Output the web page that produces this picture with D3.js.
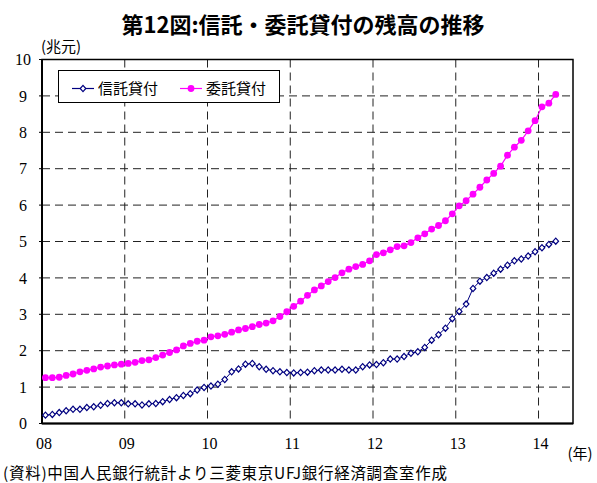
<!DOCTYPE html>
<html>
<head>
<meta charset="utf-8">
<script src="https://cdn.jsdelivr.net/npm/d3@7"></script>
<style>
  html, body { margin: 0; padding: 0; background: #fff; }
  svg { display: block; }
</style>
</head>
<body>
<svg id="chart" width="597" height="483"></svg>
<script>
// Monthly categories on the horizontal axis: Jan 2008 through May 2014
const months = d3.timeMonth.range(new Date(2008, 0, 1), new Date(2014, 5, 1));

// Year tick labels (placed at January of each year)
const yearLabels = ["08", "09", "10", "11", "12", "13", "14"];
const yearStarts = [2008, 2009, 2010, 2011, 2012, 2013, 2014];

// Value axis ticks (兆元)
const yTicks = [0, 1, 2, 3, 4, 5, 6, 7, 8, 9, 10];

// 信託貸付 outstanding balance, monthly from Jan 2008
const trustLoans = [
  0.23, 0.25, 0.30, 0.35, 0.39, 0.39, 0.44, 0.46, 0.50, 0.55, 0.57, 0.57,
  0.54, 0.54, 0.51, 0.54, 0.55, 0.60, 0.66, 0.71, 0.77, 0.82, 0.92, 0.99,
  1.03, 1.08, 1.21, 1.42, 1.50, 1.63, 1.65, 1.56, 1.49, 1.45, 1.42, 1.40,
  1.39, 1.40, 1.41, 1.45, 1.47, 1.47, 1.47, 1.49, 1.47, 1.47, 1.56, 1.61,
  1.62, 1.67, 1.77, 1.77, 1.84, 1.93, 1.97, 2.09, 2.29, 2.44, 2.62, 2.88,
  3.08, 3.28, 3.71, 3.91, 4.01, 4.13, 4.24, 4.35, 4.47, 4.52, 4.60, 4.72,
  4.83, 4.92, 5.01
];

// 委託貸付 outstanding balance, monthly from Jan 2008
const entrustedLoans = [
  1.26, 1.26, 1.27, 1.32, 1.36, 1.42, 1.46, 1.50, 1.55, 1.58, 1.61, 1.63,
  1.65, 1.68, 1.73, 1.75, 1.81, 1.88, 1.95, 2.02, 2.13, 2.20, 2.26, 2.29,
  2.38, 2.41, 2.45, 2.51, 2.57, 2.61, 2.66, 2.72, 2.76, 2.82, 2.94, 3.07,
  3.22, 3.36, 3.52, 3.67, 3.78, 3.90, 4.01, 4.14, 4.24, 4.31, 4.37, 4.47,
  4.64, 4.69, 4.77, 4.86, 4.88, 4.97, 5.10, 5.21, 5.34, 5.44, 5.57, 5.76,
  5.98, 6.12, 6.30, 6.49, 6.69, 6.87, 7.07, 7.37, 7.59, 7.78, 8.04, 8.32,
  8.70, 8.80, 9.04
];

const seriesNames = ["信託貸付", "委託貸付"];
const seriesColors = ["#000080", "#FF00FF"];

const svg = d3.select("#chart");
const plot = { left: 42, right: 573, top: 59.5, bottom: 423.5 };

const x = d3.scaleBand()
  .domain(months.map(d => +d))
  .range([plot.left, plot.right])
  .paddingInner(0).paddingOuter(0);
const xc = d => x(+d) + x.bandwidth() / 2;

const y = d3.scaleLinear().domain([0, 10]).range([plot.bottom, plot.top]);

const SERIF = "'Liberation Serif', 'Times New Roman', serif";
const JP = "'Noto Sans CJK JP', 'Noto Sans', sans-serif";

// Title
svg.append("text")
  .attr("x", 303).attr("y", 33)
  .attr("text-anchor", "middle")
  .style("font-family", JP).style("font-size", "22px").style("font-weight", "bold")
  .text("第12図:信託・委託貸付の残高の推移");

// Unit label
svg.append("text")
  .attr("x", 41).attr("y", 52)
  .style("font-family", JP).style("font-size", "15px")
  .text("(兆元)");

// Horizontal dashed gridlines
svg.append("g")
  .selectAll("line")
  .data(yTicks.filter(v => v > 0 && v < 10))
  .join("line")
  .attr("x1", plot.left).attr("x2", plot.right)
  .attr("y1", d => y(d)).attr("y2", d => y(d))
  .attr("stroke", "#222").attr("stroke-width", 1)
  .attr("stroke-dasharray", "8,5");

// Vertical dashed gridlines at year starts
const yearDates = yearStarts.map(yr => new Date(yr, 0, 1));
svg.append("g")
  .selectAll("line")
  .data(yearDates.slice(1))
  .join("line")
  .attr("x1", d => x(+d)).attr("x2", d => x(+d))
  .attr("y1", plot.top).attr("y2", plot.bottom)
  .attr("stroke", "#222").attr("stroke-width", 1)
  .attr("stroke-dasharray", "8,5");

// Plot frame
svg.append("rect")
  .attr("x", plot.left).attr("y", plot.top)
  .attr("width", plot.right - plot.left).attr("height", plot.bottom - plot.top)
  .attr("fill", "none").attr("stroke", "#000").attr("stroke-width", 1.5);

// Value axis (left) with outward ticks
const yAxis = svg.append("g");
yAxis.append("line")
  .attr("x1", plot.left).attr("x2", plot.left)
  .attr("y1", plot.top).attr("y2", plot.bottom)
  .attr("stroke", "#000").attr("stroke-width", 2);
yAxis.selectAll("line.tick")
  .data(yTicks)
  .join("line").attr("class", "tick")
  .attr("x1", plot.left - 3).attr("x2", plot.left)
  .attr("y1", d => y(d)).attr("y2", d => y(d))
  .attr("stroke", "#000").attr("stroke-width", 1);
yAxis.selectAll("text")
  .data(yTicks)
  .join("text")
  .attr("x", 23).attr("y", d => y(d))
  .attr("dy", "0.35em")
  .attr("text-anchor", "middle")
  .style("font-family", SERIF).style("font-size", "16px")
  .text(d => d);

// Category axis (bottom)
const xAxis = svg.append("g");
xAxis.append("line")
  .attr("x1", plot.left).attr("x2", plot.right)
  .attr("y1", plot.bottom).attr("y2", plot.bottom)
  .attr("stroke", "#000").attr("stroke-width", 2);
xAxis.selectAll("text")
  .data(yearDates)
  .join("text")
  .attr("x", d => x(+d) + 2).attr("y", 449)
  .attr("text-anchor", "middle")
  .style("font-family", SERIF).style("font-size", "16px")
  .text((d, i) => yearLabels[i]);

svg.append("text")
  .attr("x", 580).attr("y", 459)
  .attr("text-anchor", "middle")
  .style("font-family", JP).style("font-size", "15px")
  .text("(年)");

// Source note
svg.append("text")
  .attr("x", 3).attr("y", 479)
  .attr("textLength", 444).attr("lengthAdjust", "spacing")
  .style("font-family", JP).style("font-size", "15.5px")
  .text("(資料)中国人民銀行統計より三菱東京UFJ銀行経済調査室作成");

// Series lines and markers
const line = d3.line().x((d, i) => xc(months[i])).y(d => y(d));

function diamondPath(cx, cy) {
  const w = 2.8, h = 3.1;
  return `M${cx},${cy - h}L${cx + w},${cy}L${cx},${cy + h}L${cx - w},${cy}Z`;
}

// 委託貸付
svg.append("path")
  .datum(entrustedLoans)
  .attr("d", line)
  .attr("fill", "none").attr("stroke", seriesColors[1]).attr("stroke-width", 1.2);
svg.append("g")
  .selectAll("circle")
  .data(entrustedLoans)
  .join("circle")
  .attr("cx", (d, i) => xc(months[i])).attr("cy", d => y(d))
  .attr("r", 3.4)
  .attr("fill", seriesColors[1]);

// 信託貸付
svg.append("path")
  .datum(trustLoans)
  .attr("d", line)
  .attr("fill", "none").attr("stroke", seriesColors[0]).attr("stroke-width", 1);
svg.append("g")
  .selectAll("path")
  .data(trustLoans)
  .join("path")
  .attr("d", (d, i) => diamondPath(xc(months[i]), y(d)))
  .attr("fill", "#fff").attr("stroke", seriesColors[0]).attr("stroke-width", 1.2);

// Legend
const legend = svg.append("g");
legend.append("rect")
  .attr("x", 58.5).attr("y", 70.5).attr("width", 221).attr("height", 32)
  .attr("fill", "#fff").attr("stroke", "#000").attr("stroke-width", 1);

const legendItems = [
  { name: seriesNames[0], color: seriesColors[0], x0: 72, marker: "diamond" },
  { name: seriesNames[1], color: seriesColors[1], x0: 180, marker: "circle" }
];
const ly = 88.5;
legendItems.forEach(item => {
  legend.append("line")
    .attr("x1", item.x0).attr("x2", item.x0 + 22)
    .attr("y1", ly).attr("y2", ly)
    .attr("stroke", item.color).attr("stroke-width", 1.2);
  if (item.marker === "diamond") {
    legend.append("path")
      .attr("d", diamondPath(item.x0 + 11, ly))
      .attr("fill", "#fff").attr("stroke", item.color).attr("stroke-width", 1.2);
  } else {
    legend.append("circle")
      .attr("cx", item.x0 + 11).attr("cy", ly).attr("r", 3.4)
      .attr("fill", item.color);
  }
  legend.append("text")
    .attr("x", item.x0 + 26).attr("y", ly + 5.5)
    .style("font-family", JP).style("font-size", "15px")
    .text(item.name);
});
</script>
</body>
</html>
